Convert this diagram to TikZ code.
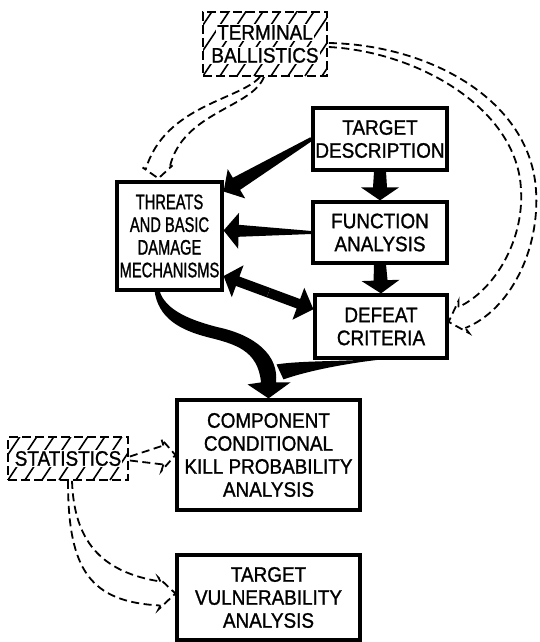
\documentclass[tikz,border=0pt]{standalone}
\usepackage{fontspec}
\newfontfamily\boxfont[FakeStretch=0.9,FakeBold=1.2]{Liberation Sans}
\newfontfamily\narrowfont[FakeStretch=0.7,FakeBold=1.2]{Liberation Sans}
\usepackage{tikz}
\usetikzlibrary{calc}

% filled black arrow: start, tip, start half width, base half width, head half width, head length
\newcommand{\fatarrow}[6]{%
	\coordinate (fa-b) at ($(#2)!#6!(#1)$);
	\fill ($(#1)!#3!90:(#2)$) -- ($(fa-b)!#4!90:(#2)$) -- ($(fa-b)!#5!90:(#2)$) -- (#2) -- ($(fa-b)!#5!-90:(#2)$) -- ($(fa-b)!#4!-90:(#2)$) -- ($(#1)!#3!-90:(#2)$) -- cycle;
}
% open dashed head: name, tip, angle, half gap, half width, length
\newcommand{\openhead}[6]{%
	\begin{scope}[shift={(#2)},rotate=#3]
		\coordinate (#1-1) at (-#6,#4);
		\coordinate (#1-2) at (-#6,-#4);
		\draw[dashline] (#1-1) -- (-#6-2,#5) -- (0,0) -- (-#6-2,-#5) -- (#1-2);
	\end{scope}
}
\newcommand{\wbox}[1]{{\setlength{\fboxsep}{1.2pt}\colorbox{white}{#1}}}

\tikzset{
	block/.style={draw, line width=3.2pt, align=center, inner sep=0pt, font={\boxfont\fontsize{21}{23}\selectfont}},
	hatchbox/.style={draw, line width=1.8pt, dash pattern=on 9pt off 4pt, align=center, inner sep=0pt,
		font={\boxfont\fontsize{21}{23}\selectfont},
		path picture={\foreach \k in {-3,...,8}{
			\draw[solid, line width=1.6pt] ($(path picture bounding box.south west)+(\k*17,0)$) -- ++(60,-90);
		}}},
	dashline/.style={line width=1.8pt, dash pattern=on 8pt off 4.5pt},
}

\begin{document}
\begin{tikzpicture}[x=1pt,y=-1pt]
	\useasboundingbox (0,0) rectangle (539,642);

	\node[hatchbox, minimum width=124pt, minimum height=64pt] (term) at (265,44) {\wbox{TERMINAL}\\\wbox{BALLISTICS}};
	\node[block, minimum width=134pt, minimum height=62pt] (tdesc) at (380,139) {TARGET\\DESCRIPTION};
	\node[block, minimum width=134pt, minimum height=61pt] (func) at (380,232.5) {FUNCTION\\ANALYSIS};
	\node[block, font={\narrowfont\fontsize{21}{22.7}\selectfont}, minimum width=105pt, minimum height=108pt] (threats) at (169.5,236) {THREATS\\AND BASIC\\DAMAGE\\MECHANISMS};
	\node[block, minimum width=132pt, minimum height=63pt] (defeat) at (381,326.5) {DEFEAT\\CRITERIA};
	\node[block, minimum width=183pt, minimum height=110pt] (comp) at (268.5,455) {COMPONENT\\CONDITIONAL\\KILL PROBABILITY\\ANALYSIS};
	\node[block, minimum width=183pt, minimum height=85pt] (vuln) at (268.5,597.5) {TARGET\\VULNERABILITY\\ANALYSIS};
	\node[hatchbox, minimum width=120pt, minimum height=43pt] (stats) at (68,458.5) {\wbox{STATISTICS}};

	% black arrows
	\coordinate (th-a) at ($(threats.north east)!0.1!(threats.south east)$);
	\coordinate (th-b) at ($(threats.north east)!0.45!(threats.south east)$);
	\coordinate (th-c) at ($(threats.north east)!0.86!(threats.south east)$);
	\coordinate (df-a) at ($(defeat.north west)!0.24!(defeat.south west)$);
	\coordinate (th-d) at ($(th-c)!0.5!(df-a)$);
	\fatarrow{tdesc.west}{th-a}{2pt}{7pt}{17pt}{15pt}
	\fatarrow{func.west}{th-b}{1.5pt}{6pt}{18pt}{15pt}
	\fatarrow{th-d}{th-c}{5pt}{5pt}{17pt}{15pt}
	\fatarrow{th-d}{df-a}{5pt}{5pt}{17pt}{16pt}
	\fatarrow{tdesc.south}{func.north}{6pt}{7pt}{19pt}{13pt}
	\fatarrow{func.south}{defeat.north}{6pt}{7pt}{19pt}{13pt}

	\coordinate (th-out) at ($(threats.south west)!0.38!(threats.south east)$);
	\coordinate (df-out) at ($(defeat.south)+(4,0)$);
	\fill ($(th-out)+(-2,-1)$) .. controls (158,318) and (180,330) .. (207,337) .. controls (235,344) and (258,350) .. ($(comp.north)+(-7.5,-16)$) -- ($(comp.north)+(-21,-14)$) -- (comp.north) -- ($(comp.north)+(22,-16)$) -- ($(comp.north)+(7.5,-16)$) .. controls (279,355) and (255,335) .. (217,327) .. controls (190,320) and (165,310) .. ($(th-out)+(3,-1)$) -- cycle;
	\fill ($(df-out)+(2,-2)$) .. controls (355,362) and (305,360) .. ($(comp.north)+(8,-34)$) -- ($(comp.north)+(15,-19)$) .. controls (310,370) and (350,363) .. ($(df-out)+(-5,0)$) -- cycle;

	% dashed double arrows
	\coordinate (tb-tip) at ($(threats.north west)+(43,-2)$);
	\openhead{ha}{tb-tip}{-86}{12}{15}{10}
	\draw[dashline] ($(term.south)+(-5,0)$) .. controls (240,100) and (165,105) .. (ha-1);
	\draw[dashline] ($(term.south)+(-1,0)$) .. controls (252,108) and (182,112) .. (ha-2);

	\coordinate (df-tip) at ($(defeat.north east)!0.43!(defeat.south east)$);
	\openhead{hd}{df-tip}{-162}{11}{17}{14}
	\draw[dashline] ($(term.east)+(1,-1)$) .. controls (430,45) and (530,100) .. (536,190) .. controls (540,250) and (510,310) .. (hd-2);
	\draw[dashline] ($(term.east)+(1,3)$) .. controls (420,52) and (518,110) .. (521,190) .. controls (524,240) and (495,290) .. (hd-1);

	\openhead{hc}{comp.west}{0}{9.5}{16}{12}
	\draw[dashline] ($(stats.east)+(1,2)$) -- (hc-1);
	\draw[dashline] ($(stats.east)+(1,-2)$) -- (hc-2);

	\coordinate (vl-tip) at ($(vuln.west)+(0,-4)$);
	\openhead{hv}{vl-tip}{0}{12}{16}{15}
	\draw[dashline] ($(stats.south)+(4,0)$) .. controls (74,540) and (100,572) .. (hv-2);
	\draw[dashline] (stats.south) .. controls (68,570) and (90,602) .. (hv-1);
\end{tikzpicture}
\end{document}
